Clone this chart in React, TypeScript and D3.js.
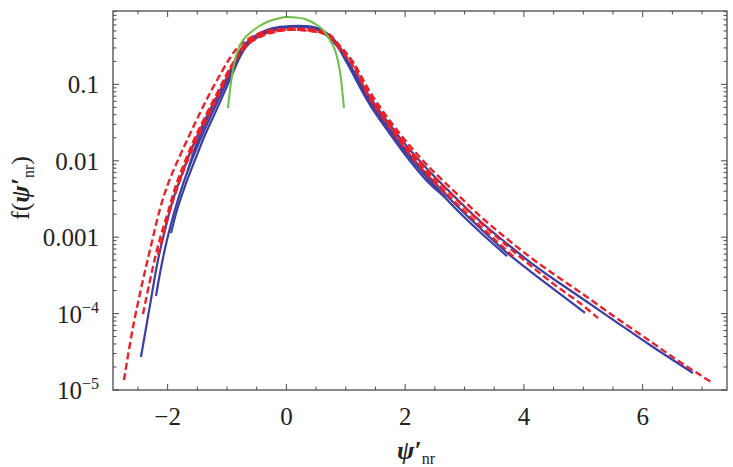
import React from "react";
import * as d3 from "d3";

type Pt = [number, number];

const X_DOMAIN: [number, number] = [-2.92, 7.42];
const Y_DOMAIN: [number, number] = [1e-5, 0.912];
const X_TICKS = [-2, 0, 2, 4, 6];
const X_TICK_LABELS = ["\u22122", "0", "2", "4", "6"];
const Y_TICKS = [1e-5, 1e-4, 1e-3, 1e-2, 1e-1];
const Y_TICK_LABELS = [
  { base: "10", exp: "\u22125" },
  { base: "10", exp: "\u22124" },
  { base: "0.001", exp: "" },
  { base: "0.01", exp: "" },
  { base: "0.1", exp: "" },
];

// blue solid curves, longest tails first
const blue1: Pt[] = [
  [-2.449, 2.7e-5], [-2.297, 1.29e-4], [-2.162, 5.02e-4], [-2.044, 1.24e-3], [-1.926, 2.8e-3],
  [-1.758, 6.71e-3], [-1.59, 0.0147], [-1.405, 0.0303], [-1.236, 0.0553], [-1.084, 0.0923],
  [-0.95, 0.15], [-0.832, 0.228], [-0.714, 0.327], [-0.444, 0.47], [-0.226, 0.546], [0.061, 0.58],
  [0.313, 0.58], [0.566, 0.53], [0.852, 0.348], [1.021, 0.208], [1.408, 0.0683], [1.745, 0.0294],
  [2.082, 0.0138], [2.418, 0.00712], [2.839, 0.00335], [3.26, 0.00163], [3.681, 0.000864],
  [4.102, 0.000473], [4.523, 0.000275], [4.944, 0.000165], [5.534, 7.99e-5], [6.123, 3.88e-5],
  [6.847, 1.67e-5],
];
const blue2: Pt[] = [
  [-2.196, 1.7e-4], [-2.112, 3.95e-4], [-2.011, 9.18e-4], [-1.893, 2.07e-3], [-1.741, 4.96e-3],
  [-1.573, 0.0112], [-1.388, 0.0245], [-1.219, 0.0476], [-1.068, 0.0843], [-0.933, 0.141],
  [-0.815, 0.221], [-0.697, 0.318], [-0.444, 0.456], [-0.226, 0.53], [0.061, 0.572], [0.313, 0.572],
  [0.566, 0.514], [0.852, 0.337], [1.021, 0.202], [1.408, 0.0624], [1.745, 0.026], [2.082, 0.0119],
  [2.418, 0.00594], [2.839, 0.00272], [3.26, 0.00132], [3.681, 0.000659], [4.102, 0.00036],
  [4.523, 0.000203], [5.029, 0.000102],
];
const blue3: Pt[] = [
  [-1.943, 1.13e-3], [-1.842, 2.27e-3], [-1.708, 4.67e-3], [-1.54, 0.0102], [-1.371, 0.0217],
  [-1.202, 0.0422], [-1.051, 0.077], [-0.916, 0.133], [-0.798, 0.215], [-0.68, 0.308],
  [-0.428, 0.456], [0.061, 0.563], [0.313, 0.563], [0.566, 0.514], [0.852, 0.327], [1.021, 0.196],
  [1.408, 0.0587], [1.745, 0.0245], [2.082, 0.0109], [2.418, 0.00543], [2.839, 0.00241],
  [3.26, 0.00117], [3.715, 0.000566],
];
const blue4: Pt[] = [
  [-1.657, 7.57e-3], [-1.506, 0.0171], [-1.337, 0.0352], [-1.169, 0.0663], [-1.017, 0.114],
  [-0.882, 0.19], [-0.765, 0.273], [-0.647, 0.337], [-0.411, 0.442], [0.061, 0.563], [0.313, 0.563],
  [0.566, 0.499], [0.852, 0.318], [1.021, 0.19], [1.408, 0.0537], [1.745, 0.0224], [2.082, 0.00993],
  [2.418, 0.00496], [2.671, 0.00335],
];

// red dashed curves
const red1: Pt[] = [
  [-2.735, 1.35e-5], [-2.583, 6.67e-5], [-2.415, 2.75e-4], [-2.297, 6.79e-4], [-2.129, 2.34e-3],
  [-1.994, 4.96e-3], [-1.826, 0.0102], [-1.64, 0.0211], [-1.455, 0.0422], [-1.287, 0.077],
  [-1.118, 0.133], [-0.95, 0.221], [-0.781, 0.327], [-0.444, 0.47], [-0.024, 0.53], [0.313, 0.53],
  [0.684, 0.47], [0.903, 0.318], [1.122, 0.196], [1.408, 0.0794], [1.745, 0.0331], [2.082, 0.0156],
  [2.418, 0.00804], [2.839, 0.0039], [3.26, 0.00189], [3.681, 0.001], [4.102, 0.00055],
  [4.523, 0.00032], [4.944, 0.000191], [5.534, 9.01e-5], [6.123, 4.37e-5], [6.629, 2.32e-5],
  [7.184, 1.23e-5],
];
const red2: Pt[] = [
  [-2.415, 9.86e-5], [-2.314, 2.36e-4], [-2.213, 5.33e-4], [-2.112, 1.07e-3], [-1.994, 2.13e-3],
  [-1.876, 4.4e-3], [-1.725, 9.07e-3], [-1.557, 0.0187], [-1.388, 0.0352], [-1.219, 0.0643],
  [-1.051, 0.114], [-0.899, 0.19], [-0.748, 0.299], [-0.444, 0.456], [-0.024, 0.53], [0.313, 0.522],
  [0.684, 0.456], [0.903, 0.308], [1.122, 0.19], [1.408, 0.0725], [1.745, 0.0303], [2.082, 0.0138],
  [2.418, 0.00691], [2.839, 0.00325], [3.26, 0.00158], [3.681, 0.000814], [4.102, 0.000432],
  [4.523, 0.000236], [4.944, 0.000137], [5.248, 8.74e-5],
];
const red3: Pt[] = [
  [-2.162, 5.84e-4], [-2.061, 1.17e-3], [-1.96, 2.27e-3], [-1.826, 4.67e-3], [-1.674, 9.63e-3],
  [-1.506, 0.0193], [-1.337, 0.0363], [-1.169, 0.0663], [-1.017, 0.117], [-0.866, 0.196],
  [-0.714, 0.299], [-0.444, 0.442], [-0.024, 0.514], [0.313, 0.514], [0.684, 0.442], [0.903, 0.299],
  [1.122, 0.185], [1.408, 0.0683], [1.745, 0.0285], [2.082, 0.0126], [2.418, 0.00632],
  [2.839, 0.00288], [3.26, 0.0014], [3.85, 0.000533],
];
const red4: Pt[] = [
  [-1.876, 3.9e-3], [-1.758, 7.12e-3], [-1.607, 0.0138], [-1.438, 0.0268], [-1.27, 0.0505],
  [-1.118, 0.0896], [-0.967, 0.154], [-0.815, 0.235], [-0.664, 0.327], [-0.411, 0.429],
  [-0.024, 0.514], [0.313, 0.507], [0.684, 0.442], [0.903, 0.29], [1.122, 0.174], [1.408, 0.0643],
  [1.745, 0.0268], [2.082, 0.0119], [2.418, 0.00594], [2.721, 0.00346],
];

// green semicircle-like curve
const green: Pt[] = [
  [-0.984, 0.049], [-0.95, 0.0843], [-0.899, 0.154], [-0.832, 0.257], [-0.731, 0.38],
  [-0.613, 0.47], [-0.478, 0.563], [-0.327, 0.655], [-0.175, 0.716], [-0.007, 0.761],
  [0.162, 0.75], [0.313, 0.716], [0.515, 0.598], [0.633, 0.499], [0.734, 0.38], [0.818, 0.282],
  [0.903, 0.145], [0.936, 0.0896], [0.97, 0.049],
];

const BLUES = [blue1, blue2, blue3, blue4];
const REDS = [red1, red2, red3, red4];

const W = 733;
const H = 467;
const PLOT = { left: 113, right: 727, top: 11, bottom: 390 };
const FRAME = "#4a4a4a";
const SERIF = "Liberation Serif, Tinos, Times New Roman, Times, serif";

export default function App() {
  const x = d3.scaleLinear().domain(X_DOMAIN).range([PLOT.left, PLOT.right]);
  const y = d3.scaleLog().domain(Y_DOMAIN).range([PLOT.bottom, PLOT.top]);
  const line = d3
    .line<Pt>()
    .x((d) => x(d[0]))
    .y((d) => y(d[1]))
    .curve(d3.curveCatmullRom.alpha(0.5));

  const xMinor = d3.range(-2.5, 7.01, 0.5).filter((v) => !X_TICKS.includes(v));
  const yMinor: number[] = [];
  for (let e = -5; e <= -1; e++) {
    for (let m = 2; m <= 9; m++) {
      const v = m * Math.pow(10, e);
      if (v < Y_DOMAIN[1]) yMinor.push(v);
    }
  }

  const tick = (key: string, x1: number, y1: number, x2: number, y2: number) => (
    <line key={key} x1={x1} y1={y1} x2={x2} y2={y2} stroke={FRAME} strokeWidth={1} />
  );

  return (
    <svg
      width={W}
      height={H}
      style={{ position: "absolute", left: 0, top: 0, background: "#fff", fontFamily: SERIF }}
    >
      {/* curves */}
      <g fill="none" strokeLinecap="butt" strokeLinejoin="round">
        {BLUES.map((d, i) => (
          <path key={"b" + i} d={line(d) ?? ""} stroke="#3b3fa3" strokeWidth={2.2} />
        ))}
        {REDS.map((d, i) => (
          <path key={"r" + i} d={line(d) ?? ""} stroke="#ea2128" strokeWidth={2.4} strokeDasharray="7,3.5" />
        ))}
        <path d={line(green) ?? ""} stroke="#6cbf45" strokeWidth={2} />
      </g>

      {/* frame */}
      <rect
        x={PLOT.left}
        y={PLOT.top}
        width={PLOT.right - PLOT.left}
        height={PLOT.bottom - PLOT.top}
        fill="none"
        stroke={FRAME}
        strokeWidth={1.3}
      />

      {/* x ticks top & bottom */}
      {X_TICKS.map((v) => (
        <g key={"xt" + v}>
          {tick("a", x(v), PLOT.bottom, x(v), PLOT.bottom - 6)}
          {tick("b", x(v), PLOT.top, x(v), PLOT.top + 6)}
        </g>
      ))}
      {xMinor.map((v) => (
        <g key={"xm" + v}>
          {tick("a", x(v), PLOT.bottom, x(v), PLOT.bottom - 3.5)}
          {tick("b", x(v), PLOT.top, x(v), PLOT.top + 3.5)}
        </g>
      ))}
      {/* y ticks left & right */}
      {Y_TICKS.map((v) => (
        <g key={"yt" + v}>
          {tick("a", PLOT.left, y(v), PLOT.left + 6, y(v))}
          {tick("b", PLOT.right, y(v), PLOT.right - 6, y(v))}
        </g>
      ))}
      {yMinor.map((v) => (
        <g key={"ym" + v}>
          {tick("a", PLOT.left, y(v), PLOT.left + 3.5, y(v))}
          {tick("b", PLOT.right, y(v), PLOT.right - 3.5, y(v))}
        </g>
      ))}

      {/* tick labels */}
      <g fontSize={25} fill="#222">
        {X_TICKS.map((v, i) => (
          <text key={"xl" + v} x={x(v)} y={PLOT.bottom + 35} textAnchor="middle">
            {X_TICK_LABELS[i]}
          </text>
        ))}
        {Y_TICKS.map((v, i) => {
          const lab = Y_TICK_LABELS[i];
          return (
            <text key={"yl" + v} x={PLOT.left - 14} y={y(v) + 9} textAnchor="end">
              {lab.base}
              {lab.exp && (
                <tspan fontSize={16} dy={-10}>
                  {lab.exp}
                </tspan>
              )}
            </text>
          );
        })}
      </g>

      {/* axis titles */}
      <text x={397} y={459} fontSize={26} fill="#222">
        <tspan fontWeight="bold" fontStyle="italic">{"\u03c8\u2032"}</tspan>
        <tspan fontSize={16} dy={5}>nr</tspan>
      </text>
      <text transform="translate(29,188) rotate(-90)" textAnchor="middle" fontSize={26} fill="#222">
        {"f("}
        <tspan fontWeight="bold" fontStyle="italic">{"\u03c8\u2032"}</tspan>
        <tspan fontSize={16} dy={5}>nr</tspan>
        <tspan dy={-5}>)</tspan>
      </text>
    </svg>
  );
}
